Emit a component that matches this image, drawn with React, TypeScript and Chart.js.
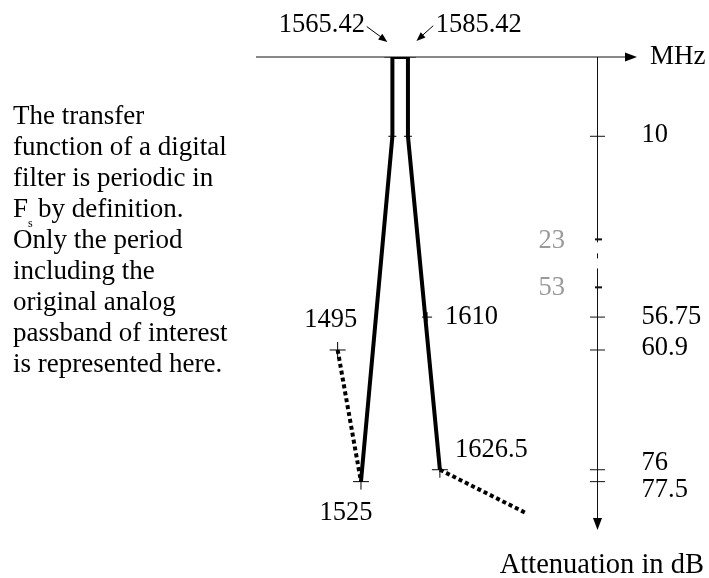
import { useEffect, useRef } from "react";
import { Chart, registerables } from "chart.js";

Chart.register(...registerables);

// Frequency (MHz) / attenuation (dB) corners of the filter response
const passbandMHz = [1525, 1565.42, 1565.42, 1585.42, 1585.42, 1626.5];
const passbandDb = [77.5, 10, 0, 0, 10, 76];

// Neighbouring periods of the response, drawn dotted
const lowerImageMHz = [1495, 1525];
const lowerImageDb = [60.9, 77.5];
const upperImageMHz = [1626.5, 1738];
const upperImageDb = [76, 81.5];

// "+" markers on the response
const markerMHz = [1565.42, 1585.42, 1565.42, 1585.42, 1610, 1495, 1525, 1626.5];
const markerDb = [0, 0, 10, 10, 56.75, 60.9, 77.5, 76];
const markerSize = [8, 8, 4, 4, 5, 8, 8, 8];

// Attenuation axis ticks
const attenuationTicks = [10, 56.75, 60.9, 76, 77.5];
const attenuationTickLabels = ["10", "56.75", "60.9", "76", "77.5"];
const secondaryTicks = [23, 53];
const secondaryTickLabels = ["23", "53"];

// Frequency labels next to the response corners
const freqLabelText = ["1565.42", "1585.42", "1495", "1525", "1610", "1626.5"];
const freqLabelMHz = [1565.42, 1585.42, 1495, 1525, 1610, 1626.5];
const freqLabelDb = [0, 0, 60.9, 77.5, 56.75, 76];

const noteLines = [
  "The transfer",
  "function of a digital",
  "filter is periodic in",
  "F",
  "Only the period",
  "including the",
  "original analog",
  "passband of interest",
  "is represented here.",
];

// The attenuation axis is broken between 23 dB and 53 dB
const BREAK_LO = 23;
const BREAK_HI = 53;
const BREAK_SPAN = 6.05;
function toAxis(db: number): number {
  if (db <= BREAK_LO) return db;
  if (db >= BREAK_HI) return db - (BREAK_HI - BREAK_LO) + BREAK_SPAN;
  return BREAK_LO + ((db - BREAK_LO) / (BREAK_HI - BREAK_LO)) * BREAK_SPAN;
}

const DB_AXIS_AT_MHZ = 1829.2;
const SERIF = '"Liberation Serif", "Times New Roman", serif';
const NUM_FONT = `26.5px ${SERIF}`;
const TEXT_FONT = `27px ${SERIF}`;
const TITLE_FONT = `28.5px ${SERIF}`;

function pts(xs: number[], ys: number[]) {
  return xs.map((x, i) => ({ x, y: toAxis(ys[i]) }));
}

function arrowHead(ctx: CanvasRenderingContext2D, tx: number, ty: number, fx: number, fy: number, len: number, half: number) {
  const dx = tx - fx;
  const dy = ty - fy;
  const d = Math.hypot(dx, dy) || 1;
  const ux = dx / d;
  const uy = dy / d;
  const bx = tx - ux * len;
  const by = ty - uy * len;
  ctx.beginPath();
  ctx.moveTo(tx, ty);
  ctx.lineTo(bx - uy * half, by + ux * half);
  ctx.lineTo(bx + uy * half, by - ux * half);
  ctx.closePath();
  ctx.fill();
}

function seg(ctx: CanvasRenderingContext2D, x1: number, y1: number, x2: number, y2: number) {
  ctx.beginPath();
  ctx.moveTo(x1, y1);
  ctx.lineTo(x2, y2);
  ctx.stroke();
}

const diagramPlugin = {
  id: "filterDiagram",
  beforeDatasetsDraw(chart: any) {
    const { ctx, chartArea: area, scales } = chart;
    const px = (f: number) => scales.x.getPixelForValue(f);
    const py = (db: number) => scales.y.getPixelForValue(toAxis(db));
    ctx.save();
    ctx.strokeStyle = "#111";
    ctx.fillStyle = "#000";
    ctx.lineWidth = 1;

    // frequency axis with arrow
    const y0 = py(0);
    seg(ctx, area.left, y0, area.right - 10, y0);
    arrowHead(ctx, area.right, y0, area.left, y0, 12, 4.5);

    // attenuation axis, broken between 23 and 53 dB
    const ax = px(DB_AXIS_AT_MHZ);
    const yb = py(BREAK_LO);
    seg(ctx, ax, y0, ax, yb + 3);
    seg(ctx, ax, yb + 14, ax, yb + 19);
    seg(ctx, ax, yb + 29, ax, area.bottom - 10);
    arrowHead(ctx, ax, area.bottom, ax, y0, 12, 4.5);

    attenuationTicks.forEach((v) => {
      const ty = py(v);
      seg(ctx, ax - 7.5, ty, ax + 7.5, ty);
    });
    ctx.lineWidth = 2;
    secondaryTicks.forEach((v) => {
      const ty = py(v);
      seg(ctx, ax - 2.5, ty, ax + 4.5, ty);
    });
    ctx.restore();
  },
  afterDatasetsDraw(chart: any) {
    const { ctx, chartArea: area, scales } = chart;
    const px = (f: number) => scales.x.getPixelForValue(f);
    const py = (db: number) => scales.y.getPixelForValue(toAxis(db));
    ctx.save();
    ctx.fillStyle = "#000";
    ctx.strokeStyle = "#000";
    ctx.textBaseline = "alphabetic";

    const y0 = py(0);
    const ax = px(DB_AXIS_AT_MHZ);

    // axis titles
    ctx.font = TEXT_FONT;
    ctx.textAlign = "left";
    ctx.fillText("MHz", area.right + 13, y0 + 7);
    ctx.font = TITLE_FONT;
    ctx.textAlign = "right";
    ctx.fillText("Attenuation in dB", ax + 106.5, area.bottom + 43);

    // attenuation tick labels
    ctx.font = NUM_FONT;
    const tickDy = [5.5, 6.5, 5, 0, 15];
    ctx.textAlign = "left";
    attenuationTickLabels.forEach((t, i) => {
      ctx.fillText(t, ax + 44, py(attenuationTicks[i]) + tickDy[i]);
    });
    ctx.fillStyle = "#9a9a9a";
    ctx.textAlign = "right";
    const secDy = [9, 7.5];
    secondaryTickLabels.forEach((t, i) => {
      ctx.fillText(t, ax - 32.5, py(secondaryTicks[i]) + secDy[i]);
    });

    // frequency labels
    ctx.fillStyle = "#000";
    const place: [CanvasTextAlign, number, number][] = [
      ["right", -27.4, -24.7],
      ["left", 27.7, -24.7],
      ["right", 19.5, -22.5],
      ["center", -15, 38],
      ["left", 18, 6.5],
      ["left", 15, -13],
    ];
    freqLabelText.forEach((t, i) => {
      const [align, dx, dy] = place[i];
      ctx.textAlign = align;
      ctx.fillText(t, px(freqLabelMHz[i]) + dx, py(freqLabelDb[i]) + dy);
    });

    // pointer arrows to the passband edges
    ctx.lineWidth = 1;
    const lx = px(passbandMHz[1]);
    const rx = px(passbandMHz[3]);
    seg(ctx, lx - 25.7, y0 - 30.5, lx - 8, y0 - 17.5);
    arrowHead(ctx, lx - 5, y0 - 15, lx - 25.7, y0 - 30.5, 9, 3.5);
    seg(ctx, rx + 25.3, y0 - 31.3, rx + 11, y0 - 18.5);
    arrowHead(ctx, rx + 8.5, y0 - 16, rx + 25.3, y0 - 31.3, 9, 3.5);

    // explanatory note
    ctx.font = TEXT_FONT;
    ctx.textAlign = "left";
    const noteX = 13;
    const firstBase = 124;
    const lead = 31;
    noteLines.forEach((line, i) => {
      const by = firstBase + i * lead;
      if (line === "F") {
        ctx.fillText("F", noteX, by);
        ctx.font = `12px ${SERIF}`;
        ctx.fillText("s", noteX + 15, by + 10);
        ctx.font = TEXT_FONT;
        ctx.fillText("by definition.", noteX + 25, by);
      } else {
        ctx.fillText(line, noteX, by);
      }
    });
    ctx.restore();
  },
};

export default function App() {
  const canvasRef = useRef<HTMLCanvasElement | null>(null);

  useEffect(() => {
    const canvas = canvasRef.current;
    if (!canvas) return;
    const chart = new Chart(canvas, {
      type: "scatter",
      data: {
        datasets: [
          {
            label: "Passband",
            data: pts(passbandMHz, passbandDb),
            showLine: true,
            borderColor: "#000",
            borderWidth: 4,
            borderJoinStyle: "miter",
            borderCapStyle: "butt",
            pointRadius: 0,
            tension: 0,
          },
          {
            label: "Lower period",
            data: pts(lowerImageMHz, lowerImageDb),
            showLine: true,
            borderColor: "#000",
            borderWidth: 4,
            borderDash: [4, 3],
            borderCapStyle: "butt",
            pointRadius: 0,
          },
          {
            label: "Upper period",
            data: pts(upperImageMHz, upperImageDb),
            showLine: true,
            borderColor: "#000",
            borderWidth: 4,
            borderDash: [4, 3],
            borderCapStyle: "butt",
            pointRadius: 0,
          },
          {
            label: "Markers",
            data: pts(markerMHz, markerDb),
            showLine: false,
            pointStyle: "cross",
            pointRadius: markerSize,
            pointBorderColor: "#000",
            pointBorderWidth: 1,
            borderColor: "#000",
          },
        ],
      },
      options: {
        responsive: false,
        devicePixelRatio: 1,
        animation: false,
        events: [],
        layout: { padding: { left: 256, right: 72, top: 57, bottom: 48 } },
        plugins: {
          legend: { display: false },
          title: { display: false },
          tooltip: { enabled: false },
        },
        scales: {
          x: { type: "linear", min: 1390, max: 1880, display: false },
          y: { type: "linear", min: 0, max: 59.65, reverse: true, display: false },
        },
      },
      plugins: [diagramPlugin],
    });
    return () => chart.destroy();
  }, []);

  return (
    <div style={{ position: "fixed", left: 0, top: 0, width: 709, height: 578, background: "#fff" }}>
      <canvas ref={canvasRef} width={709} height={578} style={{ display: "block" }} />
    </div>
  );
}
